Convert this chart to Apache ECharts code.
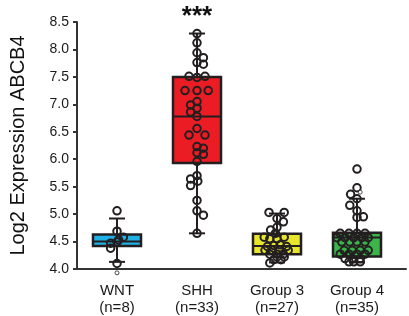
<!DOCTYPE html>
<html><head><meta charset="utf-8">
<script src="https://cdn.jsdelivr.net/npm/echarts@6/dist/echarts.min.js"></script>
<style>html,body{margin:0;padding:0;background:#fff}#c{width:409px;height:316px}</style>
</head><body><div id="c"></div>
<script>
// ---- data ----
const categories = ['WNT', 'SHH', 'Group 3', 'Group 4'];
const sampleSizes = [8, 33, 27, 35];
// box stats: [low whisker, Q1, median, Q3, high whisker]
const wntBox = [4.13, 4.42, 4.50, 4.63, 4.92];
const shhBox = [4.65, 5.93, 6.78, 7.50, 8.29];
const g3Box  = [4.12, 4.27, 4.42, 4.64, 5.01];
const g4Box  = [4.12, 4.23, 4.575, 4.66, 5.28];
// individual samples (value) and horizontal jitter (category units)
const wntValues  = [5.06, 4.69, 4.58, 4.53, 4.49, 4.47, 4.38, 4.10];
const wntJitter  = [0, 0, 0.08, 0.02, 0, -0.08, -0.08, 0];
const shhValues  = [8.29, 8.12, 7.94, 7.85, 7.76, 7.73, 7.51, 7.49, 7.51, 7.25, 7.25, 7.25, 7.05, 6.99, 6.93, 6.86, 6.78,
                    6.56, 6.44, 6.44, 6.23, 6.20, 6.12, 6.09, 5.96, 5.70, 5.64, 5.60, 5.52, 5.25, 5.06, 4.98, 4.65];
const shhJitter  = [0, 0, 0, 0.08, 0, 0.08, -0.1, 0, 0.1, -0.15, 0, 0.14, 0, -0.08, 0, -0.08, 0,
                    0, -0.1, 0.1, 0, 0.08, 0, 0.08, 0, 0, -0.08, 0.01, -0.08, 0, 0, 0.08, 0];
const g3Values   = [5.03, 5.03, 4.92, 4.86, 4.76, 4.71, 4.65, 4.58, 4.55, 4.55, 4.58, 4.41, 4.43, 4.44, 4.41,
                    4.34, 4.34, 4.34, 4.34, 4.27, 4.27, 4.27, 4.22, 4.22, 4.17, 4.17, 4.11];
const g3Jitter   = [-0.1, 0.09, 0, 0.08, 0, -0.08, -0.02, -0.16, -0.09, 0, 0.09, -0.12, -0.04, 0.04, 0.12,
                    -0.15, -0.06, 0.03, 0.14, -0.09, 0, 0.08, 0, 0.09, -0.04, 0.05, -0.09];
const g4Values   = [5.82, 5.48, 5.36, 5.28, 5.16, 5.06, 4.94, 4.95,
                    4.65, 4.65, 4.65, 4.65, 4.57, 4.57, 4.57, 4.57, 4.57, 4.49, 4.49, 4.49, 4.49,
                    4.34, 4.34, 4.34, 4.34, 4.27, 4.27, 4.27, 4.27, 4.19, 4.19, 4.19, 4.13, 4.13, 4.13];
const g4Jitter   = [0, 0, -0.08, 0, -0.09, 0, 0, 0.08,
                    -0.21, -0.1, 0, 0.1, -0.25, -0.15, -0.04, 0.06, 0.14, -0.19, -0.09, 0, 0.1,
                    -0.16, -0.06, 0.04, 0.14, -0.21, -0.1, 0, 0.1, -0.15, -0.06, 0.04, -0.1, -0.04, 0.04];
const smallMarks = [[1, 3.93], [4.04, 5.40]];
const yTicks = { min: 4.0, max: 8.5, step: 0.5 };
const significance = '***';

// ---- build ----
const boxColors = ['#1fb1e6', '#ec1c24', '#e8e62a', '#3bb44a'];
const boxes = [wntBox, shhBox, g3Box, g4Box];
const boxData = boxes.map((b, i) => [i + 1].concat(b));
const groups = [[wntValues, wntJitter], [shhValues, shhJitter], [g3Values, g3Jitter], [g4Values, g4Jitter]];
const pts = [];
groups.forEach((g, i) => g[0].forEach((v, k) => pts.push([i + 1 + g[1][k], v])));
const dark = '#231f20';

const chart = echarts.init(document.getElementById('c'));
chart.setOption({
  animation: false,
  grid: { left: 77, right: 3, top: 22, bottom: 44 },
  xAxis: {
    type: 'value', min: 0.5, max: 4.6125,
    splitLine: { show: false },
    axisLine: { show: true, lineStyle: { color: '#333', width: 2 } },
    axisTick: { show: false },
    axisLabel: {
      customValues: [1, 2, 3, 4], margin: 13,
      fontFamily: 'Liberation Sans', fontSize: 15, color: '#1a1a1a', lineHeight: 17,
      formatter: v => categories[Math.round(v) - 1] + '\n(n=' + sampleSizes[Math.round(v) - 1] + ')'
    }
  },
  yAxis: {
    type: 'value', min: yTicks.min, max: yTicks.max, interval: yTicks.step,
    name: 'Log2 Expression ABCB4', nameLocation: 'middle', nameGap: 49,
    nameTextStyle: { fontFamily: 'Liberation Sans', fontSize: 20, color: '#111' },
    splitLine: { show: false },
    axisLine: { show: true, lineStyle: { color: '#333', width: 2 } },
    axisTick: { show: true, length: 4, lineStyle: { color: '#333', width: 2 } },
    axisLabel: { fontFamily: 'Liberation Sans', fontSize: 14, color: '#1a1a1a', margin: 8, formatter: v => v.toFixed(1) }
  },
  series: [
    {
      type: 'custom', data: boxData, z: 2, clip: false,
      encode: { x: 0, y: [1, 2, 3, 4, 5] },
      renderItem: (params, api) => {
        const x = api.value(0);
        const c = api.coord([x, 0])[0];
        const y = k => api.coord([x, api.value(k)])[1];
        const hw = api.size([0.6, 0])[0] / 2;
        const cw = api.size([0.2, 0])[0] / 2;
        const ls = { stroke: dark, lineWidth: 2 };
        const lo = y(1), q1 = y(2), md = y(3), q3 = y(4), hi = y(5);
        return { type: 'group', children: [
          { type: 'line', shape: { x1: c, y1: lo, x2: c, y2: hi }, style: ls },
          { type: 'line', shape: { x1: c - cw, y1: lo, x2: c + cw, y2: lo }, style: ls },
          { type: 'line', shape: { x1: c - cw, y1: hi, x2: c + cw, y2: hi }, style: ls },
          { type: 'rect', shape: { x: c - hw, y: q3, width: 2 * hw, height: q1 - q3 },
            style: { fill: boxColors[params.dataIndex], stroke: dark, lineWidth: 2.5 } },
          { type: 'line', shape: { x1: c - hw, y1: md, x2: c + hw, y2: md }, style: ls }
        ]};
      }
    },
    {
      type: 'scatter', data: pts, z: 3, symbol: 'circle', symbolSize: 7.5,
      itemStyle: { color: 'rgba(0,0,0,0)', borderColor: dark, borderWidth: 2, opacity: 1 }
    },
    {
      type: 'scatter', data: smallMarks, z: 3, symbol: 'circle', symbolSize: 4, clip: false,
      itemStyle: { color: '#fff', borderColor: dark, borderWidth: 1 }
    }
  ]
});
const p = chart.convertToPixel({ gridIndex: 0 }, [2, 8.5]);
chart.setOption({
  graphic: [{
    type: 'text', x: p[0], y: 17, z: 10,
    style: { text: significance, font: 'bold 26px "Liberation Sans"', fill: '#111', textAlign: 'center', textVerticalAlign: 'middle' }
  }]
});
</script></body></html>
